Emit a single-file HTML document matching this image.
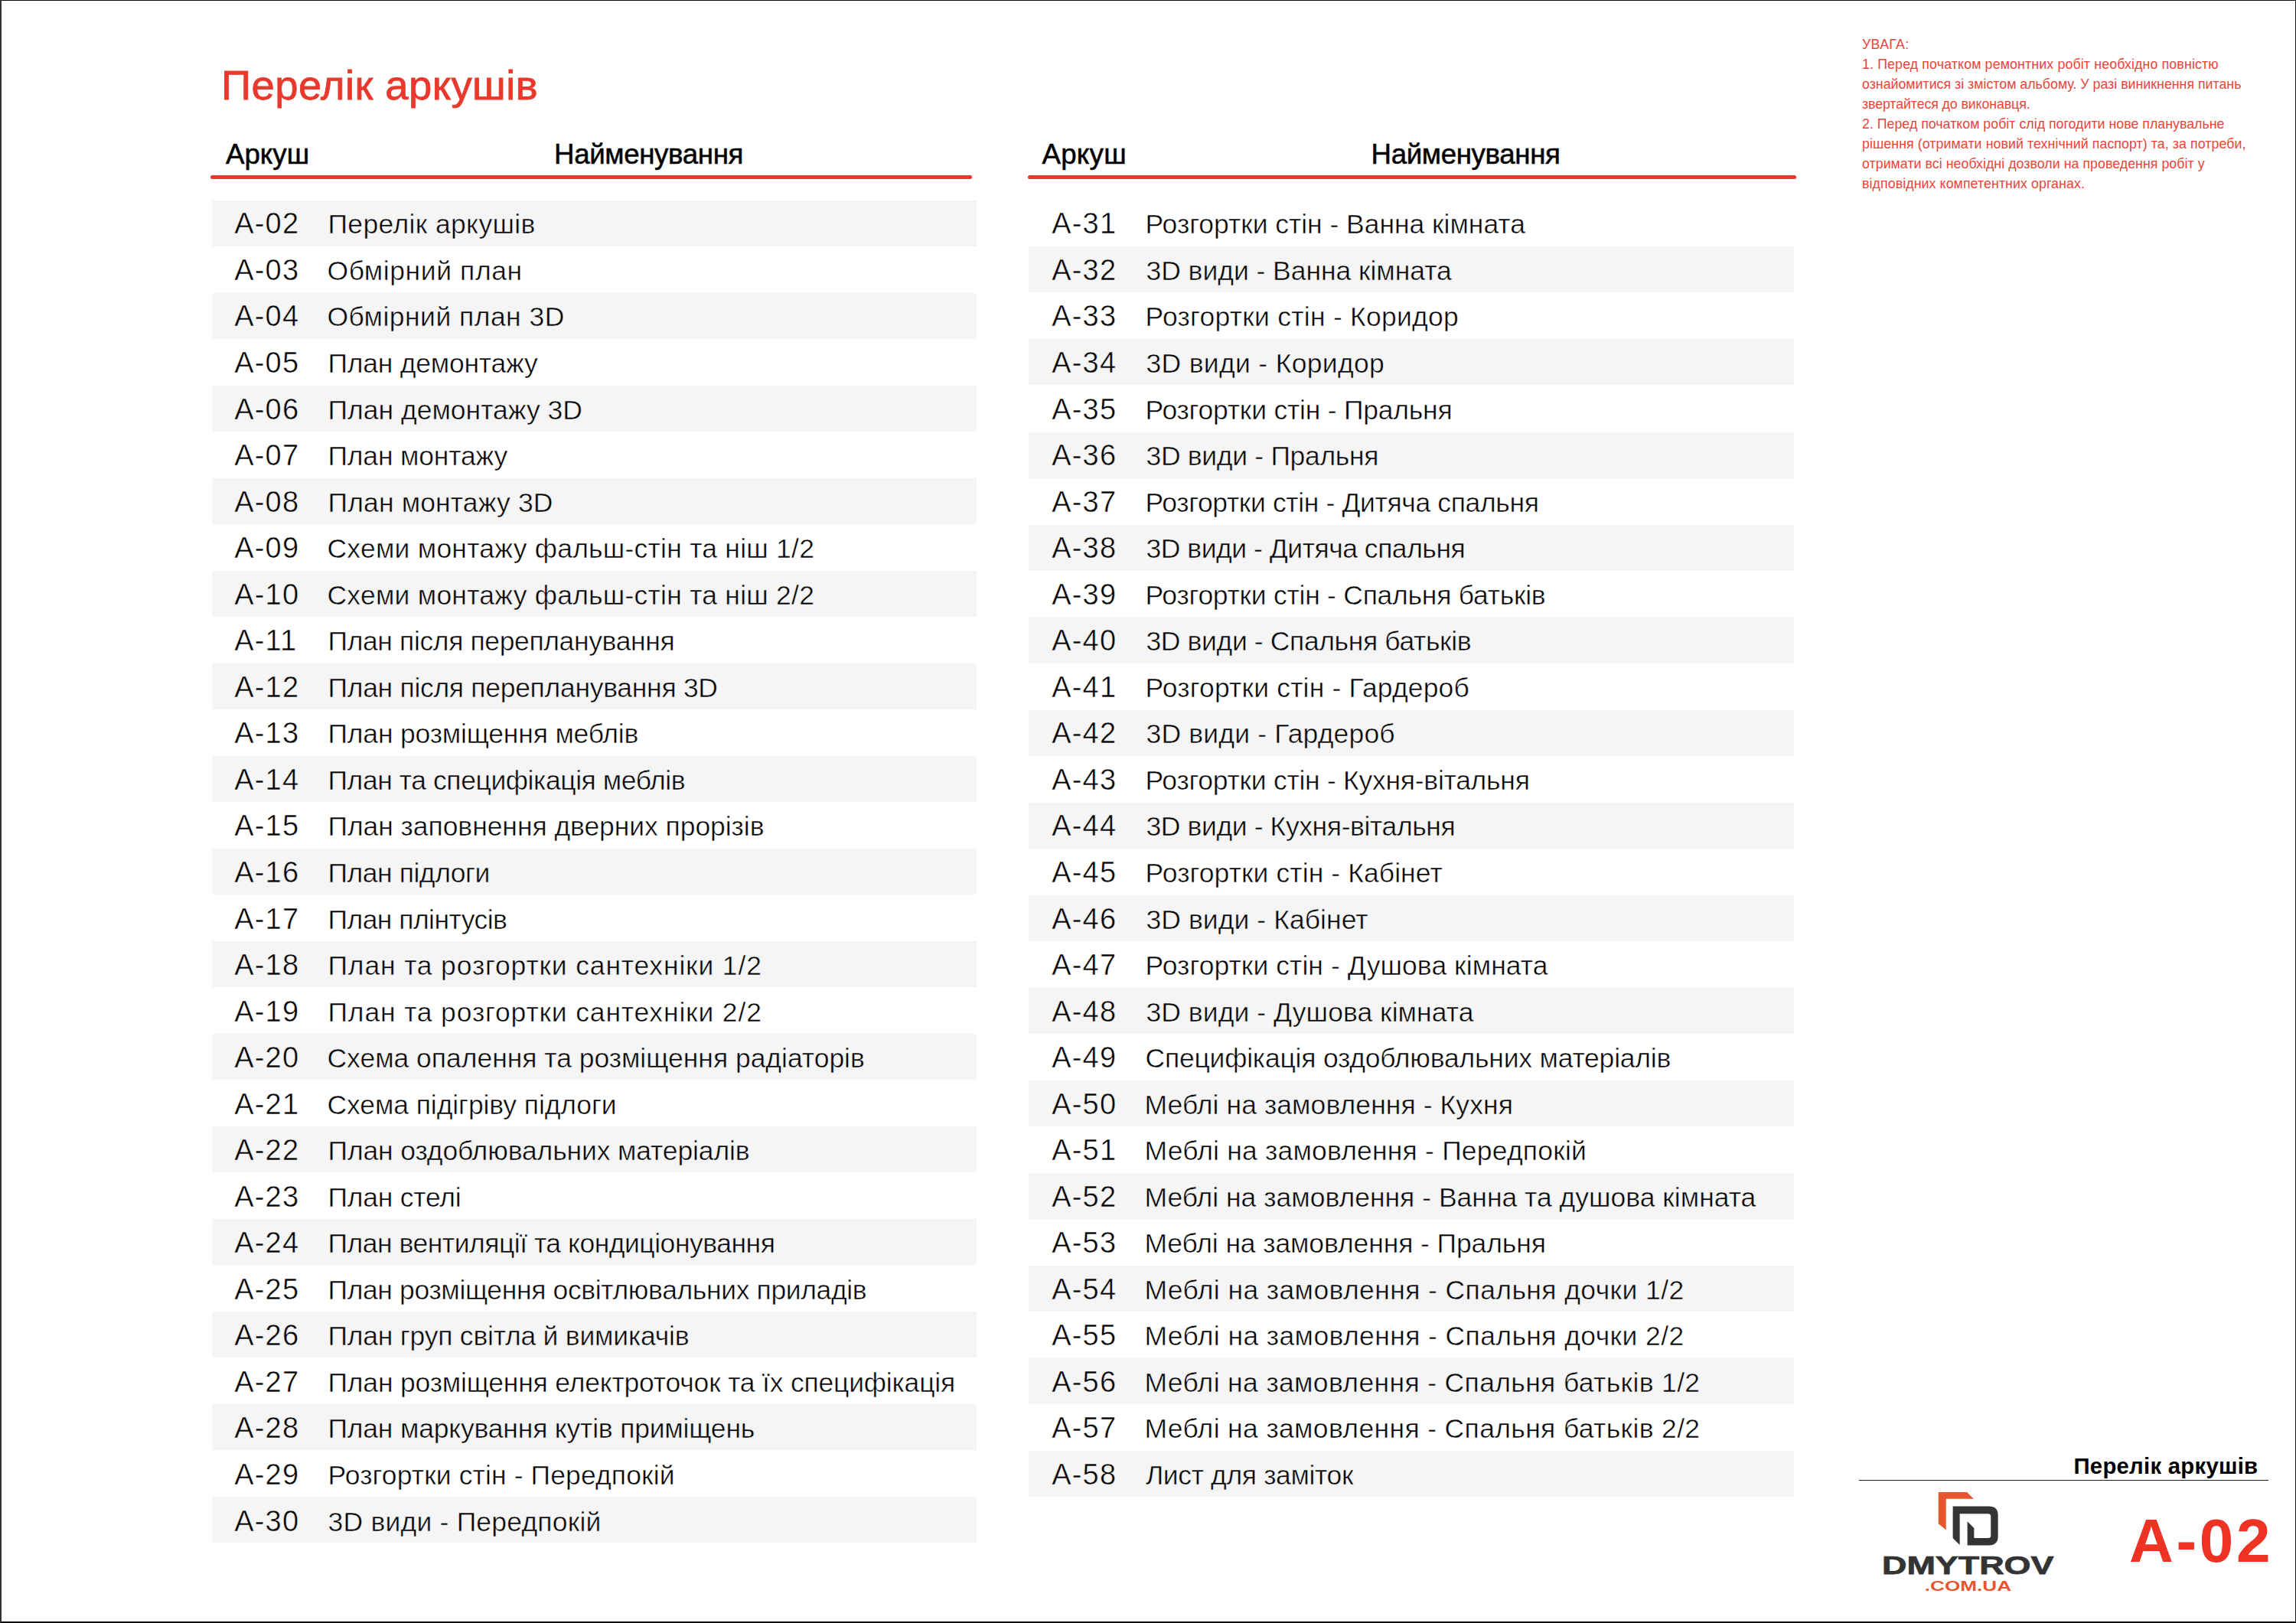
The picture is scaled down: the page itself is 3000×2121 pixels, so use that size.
<!DOCTYPE html>
<html lang="uk">
<head>
<meta charset="utf-8">
<title>Перелік аркушів — А-02</title>
<style>
html,body{margin:0;padding:0;background:#fff}
body{width:3000px;height:2121px;position:relative;overflow:hidden;font-family:"Liberation Sans",sans-serif;color:#000}
.sheet{position:absolute;left:0;top:0;width:3000px;height:2121px;background:#fff}
.frame{position:absolute;left:0;top:0;width:3000px;height:2121px;box-sizing:border-box;border-style:solid;border-color:#0d0d0d #1c1c1c #0d0d0d #333;border-width:1px 1px 2px 2px;pointer-events:none}
.t{position:absolute;white-space:nowrap;line-height:1;margin:0;padding:0;font-weight:400}
.title{color:#e8392c;font-size:54.5px;-webkit-text-stroke:0.8px #e8392c}
.hdr{font-size:36.7px;color:#000;-webkit-text-stroke:0.5px #000}
.rule{position:absolute;height:5px;border-radius:2.5px;background:#e53a30}
.row{position:absolute;height:60.0px}
.row.g{background:#f5f5f5}
.row .t{font-size:35.5px;color:#000;-webkit-text-stroke:0.5px #fff}
.row.g .t{-webkit-text-stroke-color:#f5f5f5}
.row .c{font-size:38.0px}
.note{color:#e8463a;font-size:17.75px}
.foot-title{font-weight:700;color:#000}
.foot-rule{position:absolute;background:#222}
.sheetno{font-weight:700;color:#ee3224}
svg{position:absolute;overflow:visible}
</style>
</head>
<body>
<div class="sheet">

<h1 class="t title" id="title" style="left:289.00px;top:85.00px;letter-spacing:0.384px;">Перелік аркушів</h1>
<section class="col" id="col0">
<div class="t hdr" id="h0a" style="left:295.00px;top:184.00px;">Аркуш</div>
<div class="t hdr" id="h0b" style="left:724.00px;top:184.00px;letter-spacing:-0.364px;">Найменування</div>
<div class="rule" style="left:275.00px;top:229px;width:995.00px"></div>
<div class="row g" style="left:277.00px;top:261.90px;width:999.25px"><span class="t c" id="c0_0" style="left:29.20px;top:11.10px;letter-spacing:1.200px">А-02</span><span class="t" id="n0_0" style="left:151.50px;top:14.10px;letter-spacing:0.357px">Перелік аркушів</span></div>
<div class="row" style="left:277.00px;top:322.42px;width:999.25px"><span class="t c" id="c0_1" style="left:29.20px;top:11.58px;letter-spacing:1.200px">А-03</span><span class="t" id="n0_1" style="left:150.50px;top:14.58px;letter-spacing:0.583px">Обмірний план</span></div>
<div class="row g" style="left:277.00px;top:382.94px;width:999.25px"><span class="t c" id="c0_2" style="left:29.20px;top:11.06px;letter-spacing:1.200px">А-04</span><span class="t" id="n0_2" style="left:150.50px;top:14.06px;letter-spacing:0.467px">Обмірний план 3D</span></div>
<div class="row" style="left:277.00px;top:443.46px;width:999.25px"><span class="t c" id="c0_3" style="left:29.20px;top:11.54px;letter-spacing:1.200px">А-05</span><span class="t" id="n0_3" style="left:151.50px;top:14.54px;letter-spacing:-0.231px">План демонтажу</span></div>
<div class="row g" style="left:277.00px;top:503.98px;width:999.25px"><span class="t c" id="c0_4" style="left:29.20px;top:12.02px;letter-spacing:1.200px">А-06</span><span class="t" id="n0_4" style="left:151.50px;top:15.02px;letter-spacing:0.000px">План демонтажу 3D</span></div>
<div class="row" style="left:277.00px;top:564.50px;width:999.25px"><span class="t c" id="c0_5" style="left:29.20px;top:11.50px;letter-spacing:1.200px">А-07</span><span class="t" id="n0_5" style="left:151.50px;top:14.50px;letter-spacing:-0.182px">План монтажу</span></div>
<div class="row g" style="left:277.00px;top:625.02px;width:999.25px"><span class="t c" id="c0_6" style="left:29.20px;top:11.98px;letter-spacing:1.200px">А-08</span><span class="t" id="n0_6" style="left:151.50px;top:14.98px;letter-spacing:0.143px">План монтажу 3D</span></div>
<div class="row" style="left:277.00px;top:685.54px;width:999.25px"><span class="t c" id="c0_7" style="left:29.20px;top:11.46px;letter-spacing:1.200px">А-09</span><span class="t" id="n0_7" style="left:150.50px;top:14.46px;letter-spacing:0.235px">Схеми монтажу фальш-стін та ніш 1/2</span></div>
<div class="row g" style="left:277.00px;top:746.06px;width:999.25px"><span class="t c" id="c0_8" style="left:29.20px;top:11.94px;letter-spacing:1.200px">А-10</span><span class="t" id="n0_8" style="left:150.50px;top:14.94px;letter-spacing:0.235px">Схеми монтажу фальш-стін та ніш 2/2</span></div>
<div class="row" style="left:277.00px;top:806.58px;width:999.25px"><span class="t c" id="c0_9" style="left:29.20px;top:11.42px;letter-spacing:1.200px">А-11</span><span class="t" id="n0_9" style="left:151.50px;top:14.42px;letter-spacing:-0.375px">План після перепланування</span></div>
<div class="row g" style="left:277.00px;top:867.10px;width:999.25px"><span class="t c" id="c0_10" style="left:29.20px;top:11.90px;letter-spacing:1.200px">А-12</span><span class="t" id="n0_10" style="left:151.50px;top:14.90px;letter-spacing:-0.296px">План після перепланування 3D</span></div>
<div class="row" style="left:277.00px;top:927.62px;width:999.25px"><span class="t c" id="c0_11" style="left:29.20px;top:11.38px;letter-spacing:1.200px">А-13</span><span class="t" id="n0_11" style="left:151.50px;top:14.38px;letter-spacing:-0.190px">План розміщення меблів</span></div>
<div class="row g" style="left:277.00px;top:988.14px;width:999.25px"><span class="t c" id="c0_12" style="left:29.20px;top:11.86px;letter-spacing:1.200px">А-14</span><span class="t" id="n0_12" style="left:151.50px;top:14.86px;letter-spacing:-0.423px">План та специфікація меблів</span></div>
<div class="row" style="left:277.00px;top:1048.66px;width:999.25px"><span class="t c" id="c0_13" style="left:29.20px;top:11.34px;letter-spacing:1.200px">А-15</span><span class="t" id="n0_13" style="left:151.50px;top:14.34px;letter-spacing:-0.065px">План заповнення дверних прорізів</span></div>
<div class="row g" style="left:277.00px;top:1109.18px;width:999.25px"><span class="t c" id="c0_14" style="left:29.20px;top:11.82px;letter-spacing:1.200px">А-16</span><span class="t" id="n0_14" style="left:151.50px;top:14.82px;letter-spacing:-0.455px">План підлоги</span></div>
<div class="row" style="left:277.00px;top:1169.70px;width:999.25px"><span class="t c" id="c0_15" style="left:29.20px;top:12.30px;letter-spacing:1.200px">А-17</span><span class="t" id="n0_15" style="left:151.50px;top:15.30px;letter-spacing:-0.538px">План плінтусів</span></div>
<div class="row g" style="left:277.00px;top:1230.22px;width:999.25px"><span class="t c" id="c0_16" style="left:29.20px;top:11.78px;letter-spacing:1.200px">А-18</span><span class="t" id="n0_16" style="left:151.50px;top:14.78px;letter-spacing:0.839px">План та розгортки сантехніки 1/2</span></div>
<div class="row" style="left:277.00px;top:1290.74px;width:999.25px"><span class="t c" id="c0_17" style="left:29.20px;top:12.26px;letter-spacing:1.200px">А-19</span><span class="t" id="n0_17" style="left:151.50px;top:15.26px;letter-spacing:0.839px">План та розгортки сантехніки 2/2</span></div>
<div class="row g" style="left:277.00px;top:1351.26px;width:999.25px"><span class="t c" id="c0_18" style="left:29.20px;top:11.74px;letter-spacing:1.200px">А-20</span><span class="t" id="n0_18" style="left:150.50px;top:14.74px;letter-spacing:-0.026px">Схема опалення та розміщення радіаторів</span></div>
<div class="row" style="left:277.00px;top:1411.78px;width:999.25px"><span class="t c" id="c0_19" style="left:29.20px;top:12.22px;letter-spacing:1.200px">А-21</span><span class="t" id="n0_19" style="left:150.50px;top:15.22px;letter-spacing:-0.091px">Схема підігріву підлоги</span></div>
<div class="row g" style="left:277.00px;top:1472.30px;width:999.25px"><span class="t c" id="c0_20" style="left:29.20px;top:11.70px;letter-spacing:1.200px">А-22</span><span class="t" id="n0_20" style="left:151.50px;top:14.70px;letter-spacing:-0.138px">План оздоблювальних матеріалів</span></div>
<div class="row" style="left:277.00px;top:1532.82px;width:999.25px"><span class="t c" id="c0_21" style="left:29.20px;top:12.18px;letter-spacing:1.200px">А-23</span><span class="t" id="n0_21" style="left:151.50px;top:15.18px;letter-spacing:-0.222px">План стелі</span></div>
<div class="row g" style="left:277.00px;top:1593.34px;width:999.25px"><span class="t c" id="c0_22" style="left:29.20px;top:11.66px;letter-spacing:1.200px">А-24</span><span class="t" id="n0_22" style="left:151.50px;top:14.66px;letter-spacing:-0.485px">План вентиляції та кондиціонування</span></div>
<div class="row" style="left:277.00px;top:1653.86px;width:999.25px"><span class="t c" id="c0_23" style="left:29.20px;top:12.14px;letter-spacing:1.200px">А-25</span><span class="t" id="n0_23" style="left:151.50px;top:15.14px;letter-spacing:-0.368px">План розміщення освітлювальних приладів</span></div>
<div class="row g" style="left:277.00px;top:1714.38px;width:999.25px"><span class="t c" id="c0_24" style="left:29.20px;top:11.62px;letter-spacing:1.200px">А-26</span><span class="t" id="n0_24" style="left:151.50px;top:14.62px;letter-spacing:-0.222px">План груп світла й вимикачів</span></div>
<div class="row" style="left:277.00px;top:1774.90px;width:999.25px"><span class="t c" id="c0_25" style="left:29.20px;top:12.10px;letter-spacing:1.200px">А-27</span><span class="t" id="n0_25" style="left:151.50px;top:15.10px;letter-spacing:-0.196px">План розміщення електроточок та їх специфікація</span></div>
<div class="row g" style="left:277.00px;top:1835.42px;width:999.25px"><span class="t c" id="c0_26" style="left:29.20px;top:11.58px;letter-spacing:1.200px">А-28</span><span class="t" id="n0_26" style="left:151.50px;top:14.58px;letter-spacing:-0.200px">План маркування кутів приміщень</span></div>
<div class="row" style="left:277.00px;top:1895.94px;width:999.25px"><span class="t c" id="c0_27" style="left:29.20px;top:12.06px;letter-spacing:1.200px">А-29</span><span class="t" id="n0_27" style="left:151.50px;top:15.06px;letter-spacing:0.115px">Розгортки стін - Передпокій</span></div>
<div class="row g" style="left:277.00px;top:1956.46px;width:999.25px"><span class="t c" id="c0_28" style="left:29.20px;top:12.54px;letter-spacing:1.200px">А-30</span><span class="t" id="n0_28" style="left:151.50px;top:15.54px;letter-spacing:0.211px">3D види - Передпокій</span></div>
</section>
<section class="col" id="col1">
<div class="t hdr" id="h1a" style="left:1361.50px;top:184.00px;letter-spacing:0.250px;">Аркуш</div>
<div class="t hdr" id="h1b" style="left:1791.50px;top:184.00px;letter-spacing:-0.364px;">Найменування</div>
<div class="rule" style="left:1343.25px;top:229px;width:1003.75px"></div>
<div class="row" style="left:1344.25px;top:261.90px;width:999.75px"><span class="t c" id="c1_0" style="left:29.95px;top:11.10px;letter-spacing:1.200px">А-31</span><span class="t" id="n1_0" style="left:152.25px;top:14.10px;letter-spacing:-0.034px">Розгортки стін - Ванна кімната</span></div>
<div class="row g" style="left:1344.25px;top:322.42px;width:999.75px"><span class="t c" id="c1_1" style="left:29.95px;top:11.58px;letter-spacing:1.200px">А-32</span><span class="t" id="n1_1" style="left:153.25px;top:14.58px;letter-spacing:-0.045px">3D види - Ванна кімната</span></div>
<div class="row" style="left:1344.25px;top:382.94px;width:999.75px"><span class="t c" id="c1_2" style="left:29.95px;top:11.06px;letter-spacing:1.200px">А-33</span><span class="t" id="n1_2" style="left:152.25px;top:14.06px;letter-spacing:0.261px">Розгортки стін - Коридор</span></div>
<div class="row g" style="left:1344.25px;top:443.46px;width:999.75px"><span class="t c" id="c1_3" style="left:29.95px;top:11.54px;letter-spacing:1.200px">А-34</span><span class="t" id="n1_3" style="left:153.25px;top:14.54px;letter-spacing:0.312px">3D види - Коридор</span></div>
<div class="row" style="left:1344.25px;top:503.98px;width:999.75px"><span class="t c" id="c1_4" style="left:29.95px;top:12.02px;letter-spacing:1.200px">А-35</span><span class="t" id="n1_4" style="left:152.25px;top:15.02px;letter-spacing:-0.217px">Розгортки стін - Пральня</span></div>
<div class="row g" style="left:1344.25px;top:564.50px;width:999.75px"><span class="t c" id="c1_5" style="left:29.95px;top:11.50px;letter-spacing:1.200px">А-36</span><span class="t" id="n1_5" style="left:153.25px;top:14.50px;letter-spacing:-0.312px">3D види - Пральня</span></div>
<div class="row" style="left:1344.25px;top:625.02px;width:999.75px"><span class="t c" id="c1_6" style="left:29.95px;top:11.98px;letter-spacing:1.200px">А-37</span><span class="t" id="n1_6" style="left:152.25px;top:14.98px;letter-spacing:-0.367px">Розгортки стін - Дитяча спальня</span></div>
<div class="row g" style="left:1344.25px;top:685.54px;width:999.75px"><span class="t c" id="c1_7" style="left:29.95px;top:11.46px;letter-spacing:1.200px">А-38</span><span class="t" id="n1_7" style="left:153.25px;top:14.46px;letter-spacing:-0.478px">3D види - Дитяча спальня</span></div>
<div class="row" style="left:1344.25px;top:746.06px;width:999.75px"><span class="t c" id="c1_8" style="left:29.95px;top:11.94px;letter-spacing:1.200px">А-39</span><span class="t" id="n1_8" style="left:152.25px;top:14.94px;letter-spacing:-0.258px">Розгортки стін - Спальня батьків</span></div>
<div class="row g" style="left:1344.25px;top:806.58px;width:999.75px"><span class="t c" id="c1_9" style="left:29.95px;top:11.42px;letter-spacing:1.200px">А-40</span><span class="t" id="n1_9" style="left:153.25px;top:14.42px;letter-spacing:-0.375px">3D види - Спальня батьків</span></div>
<div class="row" style="left:1344.25px;top:867.10px;width:999.75px"><span class="t c" id="c1_10" style="left:29.95px;top:11.90px;letter-spacing:1.200px">А-41</span><span class="t" id="n1_10" style="left:152.25px;top:14.90px;letter-spacing:0.167px">Розгортки стін - Гардероб</span></div>
<div class="row g" style="left:1344.25px;top:927.62px;width:999.75px"><span class="t c" id="c1_11" style="left:29.95px;top:11.38px;letter-spacing:1.200px">А-42</span><span class="t" id="n1_11" style="left:153.25px;top:14.38px;letter-spacing:0.176px">3D види - Гардероб</span></div>
<div class="row" style="left:1344.25px;top:988.14px;width:999.75px"><span class="t c" id="c1_12" style="left:29.95px;top:11.86px;letter-spacing:1.200px">А-43</span><span class="t" id="n1_12" style="left:152.25px;top:14.86px;letter-spacing:-0.267px">Розгортки стін - Кухня-вітальня</span></div>
<div class="row g" style="left:1344.25px;top:1048.66px;width:999.75px"><span class="t c" id="c1_13" style="left:29.95px;top:11.34px;letter-spacing:1.200px">А-44</span><span class="t" id="n1_13" style="left:153.25px;top:14.34px;letter-spacing:-0.391px">3D види - Кухня-вітальня</span></div>
<div class="row" style="left:1344.25px;top:1109.18px;width:999.75px"><span class="t c" id="c1_14" style="left:29.95px;top:11.82px;letter-spacing:1.200px">А-45</span><span class="t" id="n1_14" style="left:152.25px;top:14.82px;letter-spacing:0.087px">Розгортки стін - Кабінет</span></div>
<div class="row g" style="left:1344.25px;top:1169.70px;width:999.75px"><span class="t c" id="c1_15" style="left:29.95px;top:12.30px;letter-spacing:1.200px">А-46</span><span class="t" id="n1_15" style="left:153.25px;top:15.30px;letter-spacing:0.062px">3D види - Кабінет</span></div>
<div class="row" style="left:1344.25px;top:1230.22px;width:999.75px"><span class="t c" id="c1_16" style="left:29.95px;top:11.78px;letter-spacing:1.200px">А-47</span><span class="t" id="n1_16" style="left:152.25px;top:14.78px;letter-spacing:0.067px">Розгортки стін - Душова кімната</span></div>
<div class="row g" style="left:1344.25px;top:1290.74px;width:999.75px"><span class="t c" id="c1_17" style="left:29.95px;top:12.26px;letter-spacing:1.200px">А-48</span><span class="t" id="n1_17" style="left:153.25px;top:15.26px;letter-spacing:0.043px">3D види - Душова кімната</span></div>
<div class="row" style="left:1344.25px;top:1351.26px;width:999.75px"><span class="t c" id="c1_18" style="left:29.95px;top:11.74px;letter-spacing:1.200px">А-49</span><span class="t" id="n1_18" style="left:152.25px;top:14.74px;letter-spacing:-0.216px">Специфікація оздоблювальних матеріалів</span></div>
<div class="row g" style="left:1344.25px;top:1411.78px;width:999.75px"><span class="t c" id="c1_19" style="left:29.95px;top:12.22px;letter-spacing:1.200px">А-50</span><span class="t" id="n1_19" style="left:151.25px;top:15.22px;letter-spacing:0.077px">Меблі на замовлення - Кухня</span></div>
<div class="row" style="left:1344.25px;top:1472.30px;width:999.75px"><span class="t c" id="c1_20" style="left:29.95px;top:11.70px;letter-spacing:1.200px">А-51</span><span class="t" id="n1_20" style="left:151.25px;top:14.70px;letter-spacing:0.194px">Меблі на замовлення - Передпокій</span></div>
<div class="row g" style="left:1344.25px;top:1532.82px;width:999.75px"><span class="t c" id="c1_21" style="left:29.95px;top:12.18px;letter-spacing:1.200px">А-52</span><span class="t" id="n1_21" style="left:151.25px;top:15.18px;letter-spacing:0.000px">Меблі на замовлення - Ванна та душова кімната</span></div>
<div class="row" style="left:1344.25px;top:1593.34px;width:999.75px"><span class="t c" id="c1_22" style="left:29.95px;top:11.66px;letter-spacing:1.200px">А-53</span><span class="t" id="n1_22" style="left:151.25px;top:14.66px;letter-spacing:-0.107px">Меблі на замовлення - Пральня</span></div>
<div class="row g" style="left:1344.25px;top:1653.86px;width:999.75px"><span class="t c" id="c1_23" style="left:29.95px;top:12.14px;letter-spacing:1.200px">А-54</span><span class="t" id="n1_23" style="left:151.25px;top:15.14px;letter-spacing:0.395px">Меблі на замовлення - Спальня дочки 1/2</span></div>
<div class="row" style="left:1344.25px;top:1714.38px;width:999.75px"><span class="t c" id="c1_24" style="left:29.95px;top:11.62px;letter-spacing:1.200px">А-55</span><span class="t" id="n1_24" style="left:151.25px;top:14.62px;letter-spacing:0.395px">Меблі на замовлення - Спальня дочки 2/2</span></div>
<div class="row g" style="left:1344.25px;top:1774.90px;width:999.75px"><span class="t c" id="c1_25" style="left:29.95px;top:12.10px;letter-spacing:1.200px">А-56</span><span class="t" id="n1_25" style="left:151.25px;top:15.10px;letter-spacing:0.350px">Меблі на замовлення - Спальня батьків 1/2</span></div>
<div class="row" style="left:1344.25px;top:1835.42px;width:999.75px"><span class="t c" id="c1_26" style="left:29.95px;top:11.58px;letter-spacing:1.200px">А-57</span><span class="t" id="n1_26" style="left:151.25px;top:14.58px;letter-spacing:0.350px">Меблі на замовлення - Спальня батьків 2/2</span></div>
<div class="row g" style="left:1344.25px;top:1895.94px;width:999.75px"><span class="t c" id="c1_27" style="left:29.95px;top:12.06px;letter-spacing:1.200px">А-58</span><span class="t" id="n1_27" style="left:152.65px;top:15.06px;letter-spacing:-0.360px">Лист для заміток</span></div>
</section>
<aside id="notes">
<p class="t note" id="note0" style="left:2433.00px;top:50.00px;letter-spacing:0.320px;">УВАГА:</p>
<p class="t note" id="note1" style="left:2433.00px;top:76.00px;letter-spacing:0.149px;">1. Перед початком ремонтних робіт необхідно повністю</p>
<p class="t note" id="note2" style="left:2433.00px;top:102.00px;letter-spacing:0.014px;">ознайомитися зі змістом альбому. У разі виникнення питань</p>
<p class="t note" id="note3" style="left:2433.00px;top:128.00px;letter-spacing:-0.092px;">звертайтеся до виконавця.</p>
<p class="t note" id="note4" style="left:2433.00px;top:154.00px;letter-spacing:0.023px;">2. Перед початком робіт слід погодити нове планувальне</p>
<p class="t note" id="note5" style="left:2433.00px;top:180.00px;letter-spacing:0.088px;">рішення (отримати новий технічний паспорт) та, за потреби,</p>
<p class="t note" id="note6" style="left:2433.00px;top:206.00px;letter-spacing:0.051px;">отримати всі необхідні дозволи на проведення робіт у</p>
<p class="t note" id="note7" style="left:2433.00px;top:232.00px;letter-spacing:0.094px;">відповідних компетентних органах.</p>
</aside>
<footer>
<div class="t foot-title" id="ftitle" style="left:2709.50px;top:1901.00px;letter-spacing:0.271px;font-size:29.3px;">Перелік аркушів</div>
<div class="foot-rule" style="left:2429px;top:1933.5px;width:535px;height:1.4px"></div>
<div class="t sheetno" id="sheetno" style="left:2782.00px;top:1974.00px;letter-spacing:3.667px;font-size:80px;">A-02</div>
<svg id="logo" style="left:2440px;top:1930px" width="287" height="170" viewBox="0 0 2296 1360">
<polygon fill="#e7562f" points="742,160 1040,160 1112,230 822,230 822,555 742,490"/>
<path fill="#343434" d="M893,308 H1270 Q1365,308 1365,400 V620 Q1365,715 1270,715 H1045 V465 L1115,535 V640 H1262 Q1290,640 1290,612 V413 Q1290,385 1262,385 H965 V712 L893,640 Z"/>
<text id="logo1" x="152" y="1018" font-family="'Liberation Sans',sans-serif" font-weight="700" font-size="265" fill="#343434" stroke="#343434" stroke-width="6" textLength="1796" lengthAdjust="spacingAndGlyphs">DMYTROV</text>
<text id="logo2" x="598" y="1190" font-family="'Liberation Sans',sans-serif" font-weight="700" font-size="140" fill="#e7562f" textLength="907" lengthAdjust="spacingAndGlyphs">.COM.UA</text>
</svg>

</footer>
<div class="frame"></div>
</div>
</body>
</html>
